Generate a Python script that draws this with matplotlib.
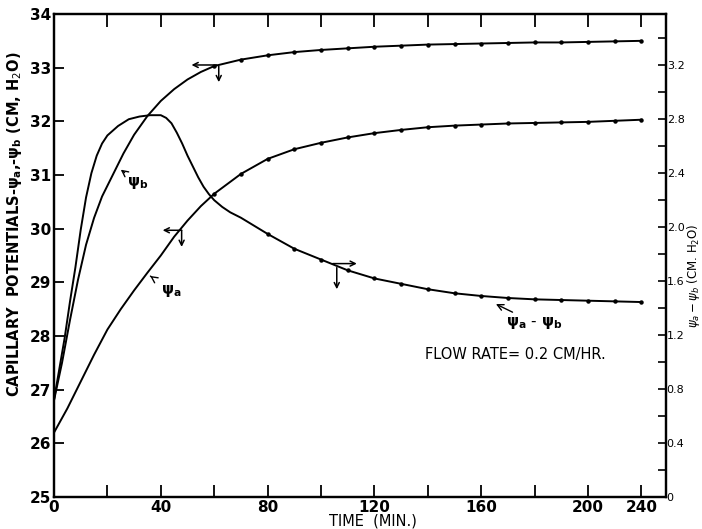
import numpy as np
import matplotlib.pyplot as plt

# curves (time in min)
time_b = [0, 3, 6, 9, 12, 15, 18, 22, 26, 30, 35, 40, 45, 50, 55, 60, 70, 80, 90,
          100, 110, 120, 130, 140, 150, 160, 170, 180, 190, 200, 220, 240]
psi_b = [26.8, 27.5, 28.3, 29.05, 29.7, 30.2, 30.6, 31.0, 31.4, 31.75, 32.1, 32.38,
         32.6, 32.78, 32.92, 33.03, 33.15, 33.23, 33.29, 33.33, 33.36, 33.39, 33.41,
         33.43, 33.44, 33.45, 33.46, 33.47, 33.47, 33.48, 33.49, 33.5]

time_a = [0, 5, 10, 15, 20, 25, 30, 35, 40, 45, 50, 55, 60, 70, 80, 90, 100, 110,
          120, 130, 140, 150, 160, 170, 180, 190, 200, 220, 240]
psi_a = [26.2, 26.65, 27.15, 27.65, 28.12, 28.5, 28.85, 29.18, 29.5, 29.85, 30.15,
         30.42, 30.65, 31.02, 31.3, 31.48, 31.6, 31.7, 31.78, 31.84, 31.89, 31.92,
         31.94, 31.96, 31.97, 31.98, 31.99, 32.01, 32.03]

time_d = [0, 2, 4, 6, 8, 10, 12, 14, 16, 18, 20, 24, 28, 32, 36, 40, 42, 44, 46, 48,
          50, 52, 54, 56, 58, 60, 63, 66, 70, 75, 80, 90, 100, 110, 120, 130, 140,
          150, 160, 170, 180, 190, 200, 220, 240]
psi_diff = [0.72, 0.95, 1.18, 1.45, 1.70, 1.98, 2.22, 2.40, 2.53, 2.62, 2.68, 2.75,
            2.80, 2.82, 2.83, 2.83, 2.81, 2.77, 2.70, 2.62, 2.53, 2.45, 2.37, 2.30,
            2.245, 2.20, 2.15, 2.11, 2.07, 2.01, 1.95, 1.84, 1.76, 1.68, 1.62, 1.58,
            1.54, 1.51, 1.49, 1.475, 1.465, 1.46, 1.455, 1.45, 1.445]

x_major = [0, 40, 80, 120, 160, 200, 240]
x_minor = [20, 60, 100, 140, 180]
left_ticks = [25, 26, 27, 28, 29, 30, 31, 32, 33, 34]
right_major = [0, 0.4, 0.8, 1.2, 1.6, 2.0, 2.4, 2.8, 3.2]
right_labels = ['0', '0.4', '0.8', '1.2', '1.6', '2.0', '2.4', '2.8', '3.2']
right_minor = [0.2, 0.6, 1.0, 1.4, 1.8, 2.2, 2.6, 3.0, 3.4]


# the time axis is squeezed after 200 min (200-240 drawn in half the space)
def squeeze(t):
    t = np.asarray(t, dtype=float)
    return np.where(t <= 200, t, 200 + (t - 200) / 2)


def unsqueeze(p):
    p = np.asarray(p, dtype=float)
    return np.where(p <= 200, p, 200 + (p - 200) * 2)


fig = plt.figure(figsize=(7.02, 5.29), dpi=100)
ax = fig.add_axes([54 / 702, 1 - 497 / 529, 612 / 702, 483 / 529])
ax.set_xscale('function', functions=(squeeze, unsqueeze))
ax.set_xlim(0, 258.4)
ax.set_ylim(25, 34)
ax2 = ax.twinx()
ax2.set_ylim(0, 3.58)

line_kw = dict(color='black', lw=1.4, marker='o', ms=2.2)
ax.plot(time_b, psi_b, markevery=slice(15, None), **line_kw)
ax.plot(time_a, psi_a, markevery=slice(12, None), **line_kw)
ax2.plot(time_d, psi_diff, markevery=slice(30, None), **line_kw)

for a in (ax, ax2):
    for s in a.spines.values():
        s.set_linewidth(1.6)

ax.set_xticks(x_major)
ax.set_xticklabels([str(v) for v in x_major])
ax.set_xticks(x_minor, minor=True)
ax.set_yticks(left_ticks)
ax.set_yticks([], minor=True)
ax.tick_params(axis='x', which='both', direction='in', top=True, length=9, width=1.3,
               labelsize=11, pad=2)
ax.tick_params(axis='y', which='both', direction='in', length=7, width=1.3,
               labelsize=11, pad=2)
for lab in ax.get_xticklabels() + ax.get_yticklabels():
    lab.set_fontweight('bold')

ax2.set_yticks(right_major)
ax2.set_yticklabels(right_labels)
ax2.set_yticks(right_minor, minor=True)
ax2.tick_params(axis='y', which='both', direction='in', length=6, width=1.2,
                labelsize=8, pad=0.5)

fig.text(15 / 702, 1 - 224 / 529,
         r'CAPILLARY  POTENTIALS-$\mathbf{\psi_a}$,-$\mathbf{\psi_b}$ (CM, H$_2$O)',
         rotation=90, ha='center', va='center', fontsize=10.5, fontweight='bold')
fig.text(693 / 702, 1 - 276 / 529, r'$\psi_a - \psi_b$ (CM. H$_2$O)',
         rotation=90, ha='center', va='center', fontsize=8.5)
fig.text(373 / 702, 1 - 521 / 529, 'TIME  (MIN.)', ha='center', va='center',
         fontsize=10.5)

# curve labels
ax.annotate(r'$\mathbf{\psi_b}$', xy=(25, 31.1), xytext=(31.5, 30.85),
            fontsize=11, ha='center', va='center',
            arrowprops=dict(arrowstyle='->', lw=1, shrinkA=6, shrinkB=0))
ax.annotate(r'$\mathbf{\psi_a}$', xy=(36, 29.12), xytext=(44, 28.84),
            fontsize=11, ha='center', va='center',
            arrowprops=dict(arrowstyle='->', lw=1, shrinkA=7, shrinkB=0))
ax2.annotate(r'$\mathbf{\psi_a}$ - $\mathbf{\psi_b}$', xy=(165.5, 1.43), xytext=(180, 1.29),
             fontsize=11, ha='center', va='center',
             arrowprops=dict(arrowstyle='->', lw=1, shrinkA=14, shrinkB=0))
ax.text(139, 27.65, 'FLOW RATE= 0.2 CM/HR.', fontsize=10.5, ha='left', va='center')

# which axis each curve belongs to
arr = dict(arrowstyle='->', lw=1.1, mutation_scale=9, shrinkA=0, shrinkB=0)
ax.annotate('', xy=(51.5, 33.05), xytext=(61, 33.05), arrowprops=arr)
ax.annotate('', xy=(61.7, 32.73), xytext=(61.7, 33.03), arrowprops=arr)
ax.annotate('', xy=(40.7, 29.97), xytext=(47.8, 29.97), arrowprops=arr)
ax.annotate('', xy=(47.8, 29.66), xytext=(47.8, 29.97), arrowprops=arr)
ax2.annotate('', xy=(113.4, 1.73), xytext=(104.4, 1.73), arrowprops=arr)
ax2.annotate('', xy=(105.9, 1.54), xytext=(105.9, 1.70), arrowprops=arr)

fig.savefig('out.png', dpi=100)
